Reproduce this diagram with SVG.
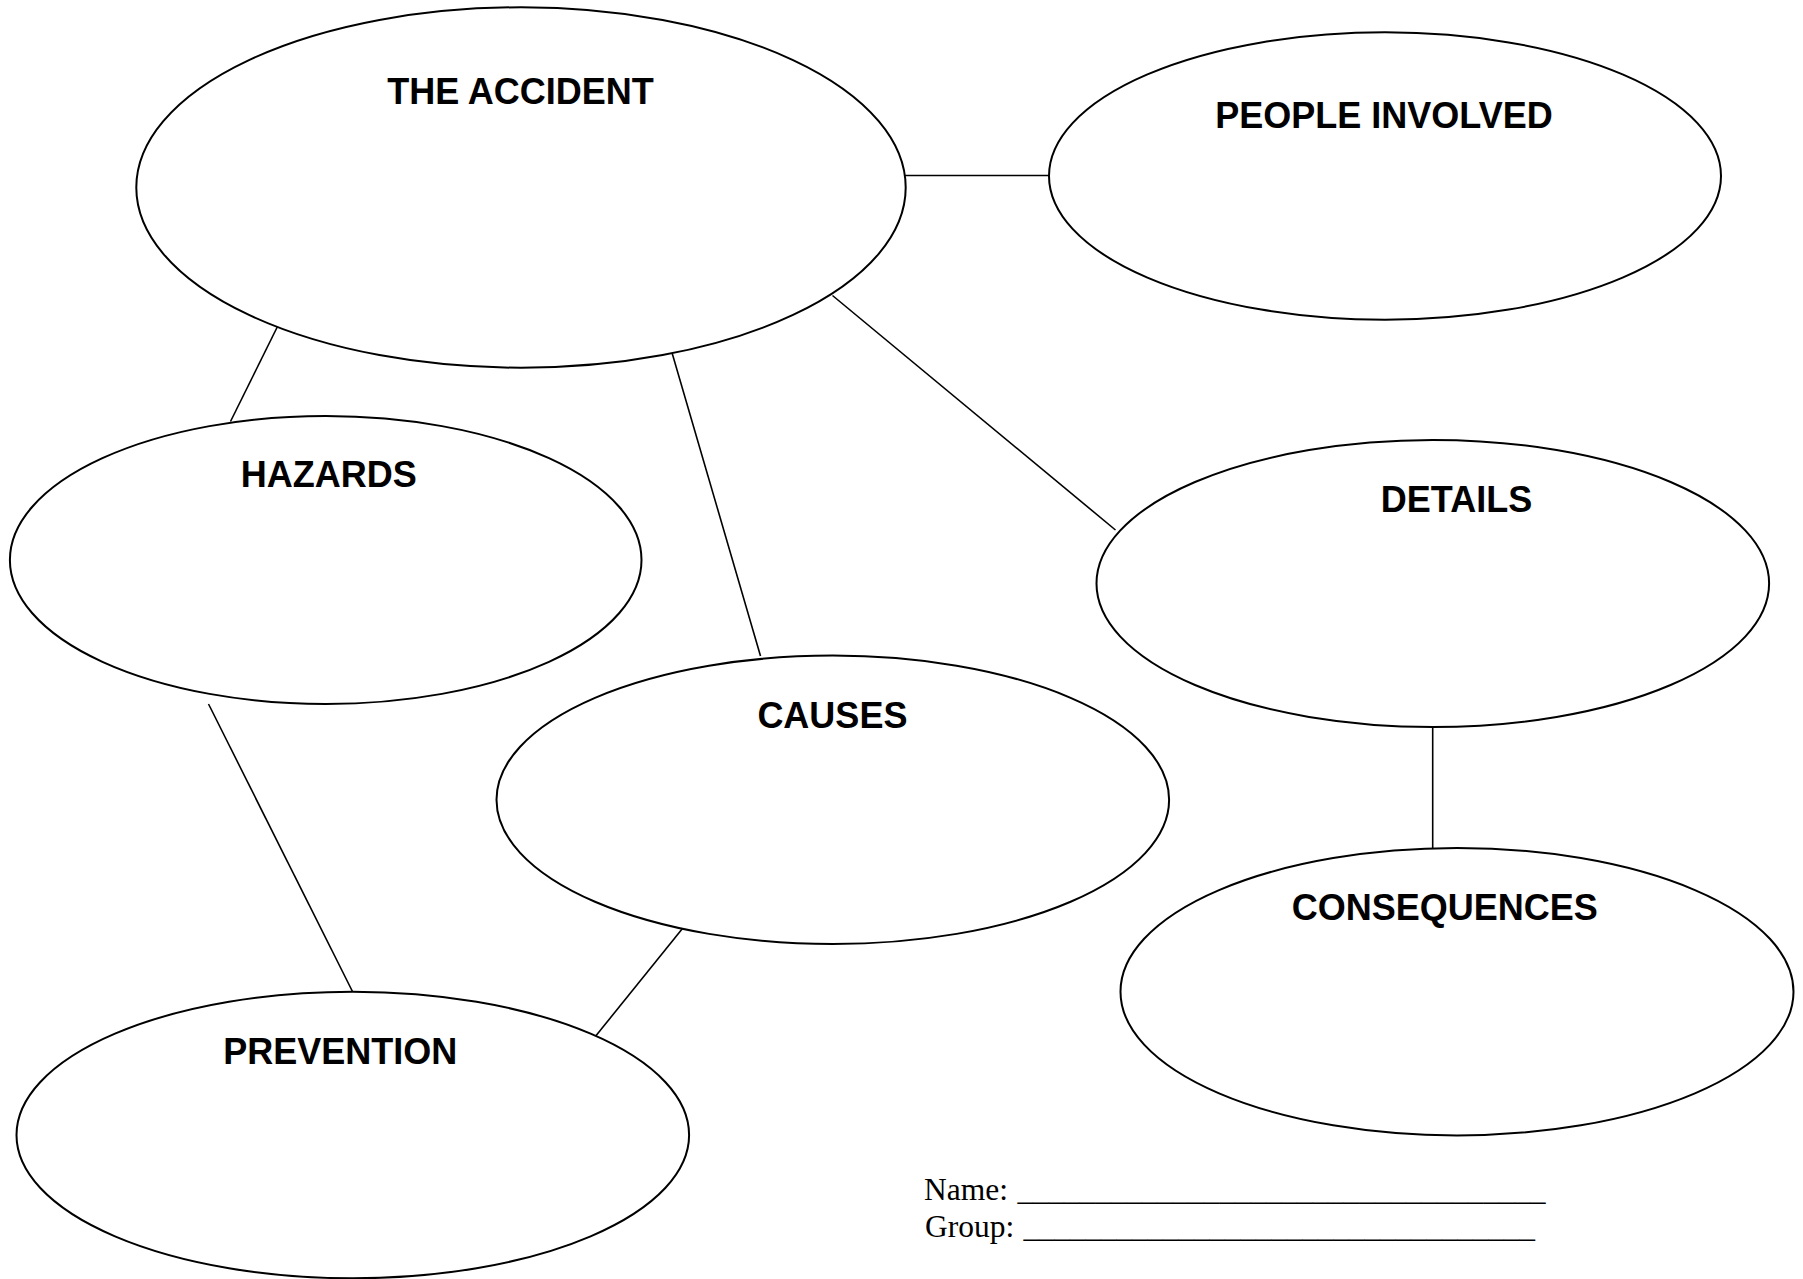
<svg xmlns="http://www.w3.org/2000/svg" width="1803" height="1279" viewBox="0 0 1803 1279">
  <style>
    .bubble { fill: #ffffff; stroke: #000000; stroke-width: 2; }
    .conn { stroke: #000000; stroke-width: 1.6; fill: none; }
    .title { font-family: "Liberation Sans", Arial, sans-serif; font-weight: bold; font-size: 36px; fill: #000000; text-anchor: middle; }
    .form { font-family: "Liberation Serif", "Times New Roman", serif; font-size: 31.5px; fill: #000000; }
  </style>
  <rect x="0" y="0" width="1803" height="1279" fill="#ffffff"/>
  <g id="connectors">
    <line class="conn" x1="905" y1="175.5" x2="1049" y2="175.5"/>
    <line class="conn" x1="278" y1="325.5" x2="230.5" y2="421.5"/>
    <line class="conn" x1="671.5" y1="351" x2="760.5" y2="656"/>
    <line class="conn" x1="832.5" y1="295.5" x2="1115.5" y2="530"/>
    <line class="conn" x1="208.5" y1="704" x2="352.5" y2="991.5"/>
    <line class="conn" x1="684.5" y1="926" x2="592.5" y2="1040"/>
    <line class="conn" x1="1432.7" y1="727" x2="1432.7" y2="848"/>
  </g>
  <g id="node-accident">
    <ellipse class="bubble" cx="521" cy="187.5" rx="384.7" ry="180.2"/>
    <text class="title" x="520.5" y="103.5">THE ACCIDENT</text>
  </g>
  <g id="node-people">
    <ellipse class="bubble" cx="1385" cy="176" rx="336" ry="143.7"/>
    <text class="title" x="1384" y="128">PEOPLE INVOLVED</text>
  </g>
  <g id="node-hazards">
    <ellipse class="bubble" cx="325.7" cy="560" rx="315.8" ry="144"/>
    <text class="title" x="328.8" y="486.5">HAZARDS</text>
  </g>
  <g id="node-details">
    <ellipse class="bubble" cx="1432.8" cy="583.5" rx="336.3" ry="143.5"/>
    <text class="title" x="1456.5" y="512">DETAILS</text>
  </g>
  <g id="node-causes">
    <ellipse class="bubble" cx="832.8" cy="799.8" rx="336.3" ry="144.2"/>
    <text class="title" x="832.4" y="728">CAUSES</text>
  </g>
  <g id="node-consequences">
    <ellipse class="bubble" cx="1457" cy="991.7" rx="336.5" ry="143.7"/>
    <text class="title" x="1444.8" y="920">CONSEQUENCES</text>
  </g>
  <g id="node-prevention">
    <ellipse class="bubble" cx="352.8" cy="1135" rx="336.3" ry="143.3"/>
    <text class="title" x="340.2" y="1064">PREVENTION</text>
  </g>
  <g id="form">
    <text class="form" x="924" y="1199.5">Name: <tspan x="1017.5" textLength="528" lengthAdjust="spacingAndGlyphs">__________________________________</tspan></text>
    <text class="form" x="925" y="1237">Group: <tspan x="1023.5" textLength="511.5" lengthAdjust="spacingAndGlyphs">_________________________________</tspan></text>
  </g>
</svg>
